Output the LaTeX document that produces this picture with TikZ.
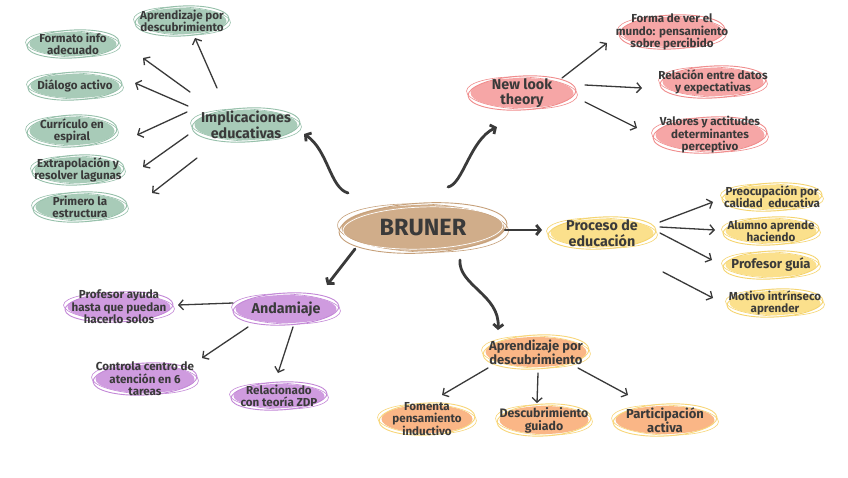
\documentclass[tikz,border=0pt]{standalone}
\usepackage{fontspec}
\setmainfont{Fira Sans}
\usetikzlibrary{arrows.meta,calc}
\definecolor{ink}{RGB}{58,58,58}
\definecolor{gfill}{RGB}{168,203,184}
\definecolor{gline}{RGB}{150,192,170}
\definecolor{pfill}{RGB}{246,166,166}
\definecolor{pline}{RGB}{240,140,140}
\definecolor{yfill}{RGB}{251,224,140}
\definecolor{yline}{RGB}{245,212,110}
\definecolor{ufill}{RGB}{207,155,223}
\definecolor{uline}{RGB}{195,135,215}
\definecolor{ofill}{RGB}{250,182,134}
\definecolor{oline}{RGB}{248,214,120}
\definecolor{bfill}{RGB}{208,173,138}
\definecolor{bline}{RGB}{198,160,122}
\newcommand\ftsmall{\bfseries\fontsize{11.6}{12.5}\selectfont}
\newcommand\ftsmb{\bfseries\fontsize{12.3}{13}\selectfont}
\newcommand\ftlab{\bfseries\fontsize{13}{14}\selectfont}
\newcommand\ftmid{\bfseries\fontsize{14.3}{15.5}\selectfont}
\newcommand\ftbru{\bfseries\fontsize{23.5}{26}\selectfont}
\tikzset{
  txt/.style={text=ink, align=center, inner sep=0pt},
  arr/.style={draw=ink, line width=1.3pt, line cap=round, -{Straight Barb[length=4.5pt,width=10pt]}},
  boldarr/.style={draw=ink, line width=2.8pt, line cap=round, -{Straight Barb[length=4pt,width=10pt]}}
}
% name, x, y, rx, ry, fill, line, font, text
\newcommand\bub[9]{%
  \fill[#6] (#2,#3) ellipse [x radius={#4pt-2.5pt}, y radius={#5pt-2pt}];
  \draw[#7, line width=.9pt, rotate around={3:(#2,#3)}] (#2,#3) ellipse [x radius=#4pt, y radius=#5pt];
  \draw[#7, line width=.6pt, rotate around={-2:(#2,#3)}] (#2,#3) ellipse [x radius={#4pt+1.5pt}, y radius={#5pt-1pt}];
  \node[txt, font=#8] (#1) at (#2,#3) {#9};
}
\begin{document}
\begin{tikzpicture}[x=1pt,y=-1pt]
\fill[white] (0,0) rectangle (848,477);
\useasboundingbox (0,0) rectangle (848,477);

% central
\bub{bru}{423}{228}{84}{25}{bfill}{bline}{\ftbru}{BRUNER}
\draw[white, line width=.7pt, rotate around={2:(423,228)}] (423,228) ellipse [x radius=80pt, y radius=21pt];

% green
\bub{imp}{246}{125}{54}{17}{gfill}{gline}{\ftmid}{Implicaciones\\educativas}
\bub{apr1}{182}{21}{47}{15}{gfill}{gline}{\ftsmall}{Aprendizaje por\\descubrimiento}
\bub{fmt}{73}{44}{46}{14}{gfill}{gline}{\ftsmall}{Formato info\\adecuado}
\bub{dial}{75}{86}{47}{14}{gfill}{gline}{\ftsmall}{Diálogo activo}
\bub{curr}{72}{131}{45}{16}{gfill}{gline}{\ftsmall}{Currículo en\\espiral}
\bub{extr}{78}{170}{46}{15}{gfill}{gline}{\ftsmall}{Extrapolación y\\resolver lagunas}
\bub{prim}{80}{207}{47}{15}{gfill}{gline}{\ftsmall}{Primero la\\estructura}

% pink
\bub{nlt}{522}{93}{54}{17}{pfill}{pline}{\ftmid}{New look\\theory}
\bub{forma}{672}{32}{53}{17}{pfill}{pline}{\ftsmall}{Forma de ver el\\mundo: pensamiento\\sobre percibido}
\bub{rel}{713}{82}{53}{16}{pfill}{pline}{\ftsmall}{Relación entre datos\\y expectativas}
\bub{val}{710}{135}{57}{18}{pfill}{pline}{\ftsmall}{Valores y actitudes\\determinantes\\perceptivo}

% yellow
\bub{proc}{602}{233}{54}{16}{yfill}{yline}{\ftmid}{Proceso de\\educación}
\bub{preo}{772}{197}{50}{14}{yfill}{yline}{\ftsmall}{Preocupación por\\calidad\ \ educativa}
\bub{alum}{771}{231}{48}{14}{yfill}{yline}{\ftsmall}{Alumno aprende\\haciendo}
\bub{prof}{771}{265}{48}{14}{yfill}{yline}{\ftlab}{Profesor guía}
\bub{moti}{775}{303}{48}{14}{yfill}{yline}{\ftsmall}{Motivo intrínseco\\aprender}

% purple
\bub{anda}{286}{309}{53}{16}{ufill}{uline}{\ftmid}{Andamiaje}
\bub{profay}{119}{307}{54}{15}{ufill}{uline}{\ftsmall}{Profesor ayuda\\hasta que puedan\\hacerlo solos}
\bub{ctrl}{145}{379}{52}{16}{ufill}{uline}{\ftsmall}{Controla centro de\\atención en 6\\tareas}
\bub{rela}{279}{396}{48}{14}{ufill}{uline}{\ftsmall}{Relacionado\\con teoría ZDP}

% orange
\bub{apr2}{536}{352}{53}{17}{ofill}{oline}{\ftlab}{Aprendizaje por\\descubrimiento}
\bub{fom}{427}{419}{48}{16}{ofill}{oline}{\ftsmall}{Fomenta\\pensamiento\\inductivo}
\bub{desc}{544}{420}{47}{16}{ofill}{oline}{\ftsmb}{Descubrimiento\\guiado}
\bub{part}{665}{420}{52}{16}{ofill}{oline}{\ftlab}{Participación\\activa}

% bold connectors from BRUNER
\draw[boldarr] ($(bru)+(-75,-35)$) .. controls +(-18,-5) and +(24,16) .. ($(imp)+(58,9)$);
\draw[boldarr] ($(bru)+(25,-41)$) .. controls +(15,-3) and +(-27,13) .. ($(nlt)+(-25,34)$);
\draw[boldarr] ($(bru)+(82,2)$) -- ($(proc)+(-60,-3)$);
\draw[boldarr] ($(bru)+(-68,21)$) -- ($(anda)+(41,-24)$);
\draw[boldarr] ($(bru)+(37,32)$) .. controls +(-2,25) and +(2,-35) .. ($(apr2)+(-38,-22)$);

% green connectors
\draw[arr] ($(imp)+(-29,-37)$) -- ($(apr1)+(13,17)$);
\draw[arr] ($(imp)+(-56,-33)$) -- ($(fmt)+(70,14)$);
\draw[arr] ($(imp)+(-58,-19)$) -- ($(dial)+(60,-3)$);
\draw[arr] ($(imp)+(-59,-13)$) -- ($(curr)+(65,4)$);
\draw[arr] ($(imp)+(-58,10)$) -- ($(extr)+(65,-3)$);
\draw[arr] ($(imp)+(-49,33)$) -- ($(prim)+(72,-14)$);

% pink connectors
\draw[arr] ($(nlt)+(40,-15)$) -- ($(forma)+(-65,11)$);
\draw[arr] ($(nlt)+(63,-8)$) -- ($(rel)+(-71,6)$);
\draw[arr] ($(nlt)+(63,9)$) -- ($(val)+(-73,-7)$);

% yellow connectors
\draw[arr] ($(proc)+(58,-11)$) -- ($(preo)+(-59,5)$);
\draw[arr] ($(proc)+(58,-6)$) -- ($(alum)+(-56,-1)$);
\draw[arr] ($(proc)+(58,0)$) -- ($(prof)+(-59,-5)$);
\draw[arr] ($(proc)+(61,39)$) -- ($(moti)+(-62,-5)$);

% purple connectors
\draw[arr] ($(anda)+(-53,-6)$) -- ($(profay)+(59,-2)$);
\draw[arr] ($(anda)+(-38,18)$) -- ($(ctrl)+(57,-21)$);
\draw[arr] ($(anda)+(7,18)$) -- ($(rela)+(-1,-23)$);

% orange connectors
\draw[arr] ($(apr2)+(-48,16)$) -- ($(fom)+(15,-24)$);
\draw[arr] ($(apr2)+(2,21)$) -- ($(desc)+(-7,-17)$);
\draw[arr] ($(apr2)+(42,16)$) -- ($(part)+(-37,-25)$);
\end{tikzpicture}
\end{document}
